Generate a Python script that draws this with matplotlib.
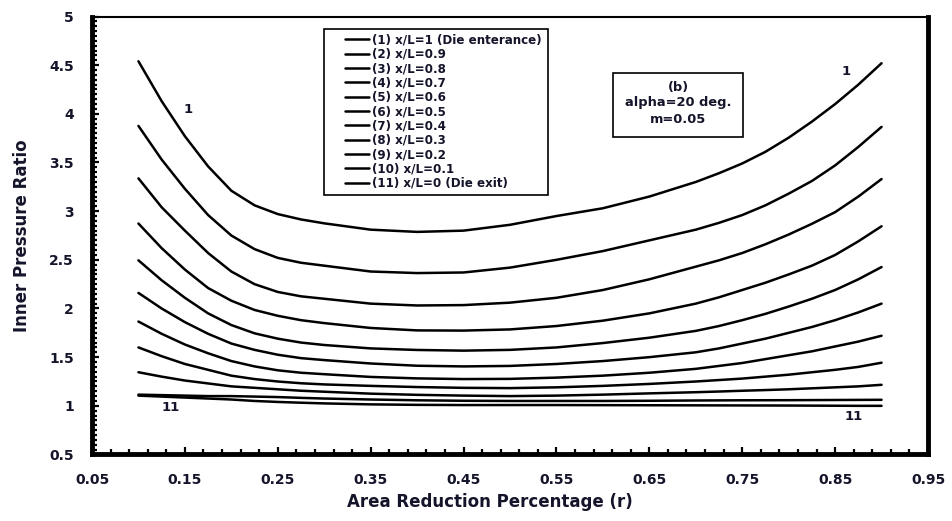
import matplotlib
matplotlib.use("Agg")
import matplotlib.pyplot as plt
from matplotlib.patches import Rectangle
from matplotlib.ticker import FixedLocator, FuncFormatter
from matplotlib.font_manager import FontProperties
import numpy as np

plt.rcParams['font.family'] = ['DejaVu Sans']
plt.rcParams['font.weight'] = 'bold'

# Area reduction values (r)
r = [0.10, 0.125, 0.15, 0.175, 0.20, 0.225, 0.25, 0.275, 0.30, 0.35, 0.40, 0.45,
     0.50, 0.55, 0.60, 0.65, 0.70, 0.725, 0.75, 0.775, 0.80, 0.825, 0.85, 0.875, 0.90]

# Inner pressure ratio for each axial position x/L
p_x10 = [4.54, 4.13, 3.77, 3.46, 3.21, 3.06, 2.97, 2.915, 2.875, 2.81, 2.787, 2.80,
         2.86, 2.95, 3.03, 3.15, 3.30, 3.39, 3.49, 3.61, 3.755, 3.92, 4.10, 4.30, 4.52]
p_x09 = [3.876, 3.53, 3.23, 2.96, 2.75, 2.61, 2.52, 2.47, 2.44, 2.38, 2.364, 2.37,
         2.42, 2.50, 2.59, 2.70, 2.81, 2.88, 2.96, 3.06, 3.18, 3.31, 3.47, 3.66, 3.866]
p_x08 = [3.337, 3.04, 2.80, 2.57, 2.38, 2.25, 2.17, 2.125, 2.10, 2.05, 2.031, 2.035,
         2.06, 2.11, 2.19, 2.30, 2.43, 2.495, 2.57, 2.66, 2.76, 2.87, 2.99, 3.15, 3.33]
p_x07 = [2.873, 2.62, 2.40, 2.21, 2.08, 1.985, 1.925, 1.88, 1.85, 1.80, 1.775, 1.773,
         1.785, 1.82, 1.875, 1.95, 2.05, 2.115, 2.19, 2.265, 2.35, 2.44, 2.55, 2.69, 2.845]
p_x06 = [2.495, 2.29, 2.11, 1.95, 1.83, 1.745, 1.69, 1.65, 1.625, 1.59, 1.574, 1.567,
         1.575, 1.60, 1.645, 1.70, 1.77, 1.82, 1.88, 1.945, 2.02, 2.10, 2.19, 2.30, 2.426]
p_x05 = [2.16, 2.00, 1.86, 1.74, 1.64, 1.575, 1.525, 1.49, 1.47, 1.435, 1.412, 1.405,
         1.41, 1.43, 1.46, 1.50, 1.55, 1.59, 1.64, 1.69, 1.75, 1.81, 1.88, 1.96, 2.05]
p_x04 = [1.866, 1.74, 1.63, 1.54, 1.46, 1.405, 1.365, 1.34, 1.325, 1.297, 1.282, 1.275,
         1.277, 1.29, 1.31, 1.34, 1.38, 1.41, 1.44, 1.48, 1.52, 1.56, 1.61, 1.66, 1.72]
p_x03 = [1.60, 1.51, 1.43, 1.37, 1.31, 1.275, 1.25, 1.232, 1.22, 1.205, 1.193, 1.185,
         1.182, 1.19, 1.205, 1.225, 1.25, 1.265, 1.28, 1.30, 1.32, 1.345, 1.37, 1.40, 1.443]
p_x02 = [1.345, 1.30, 1.26, 1.23, 1.20, 1.185, 1.17, 1.155, 1.145, 1.125, 1.113, 1.105,
         1.10, 1.105, 1.115, 1.128, 1.14, 1.147, 1.155, 1.162, 1.17, 1.18, 1.19, 1.20, 1.216]
p_x01 = [1.115, 1.11, 1.105, 1.10, 1.10, 1.095, 1.09, 1.082, 1.075, 1.065, 1.057, 1.052,
         1.05, 1.05, 1.05, 1.052, 1.055, 1.056, 1.057, 1.0575, 1.058, 1.059, 1.06, 1.061, 1.062]
p_x00 = [1.105, 1.095, 1.085, 1.075, 1.065, 1.05, 1.04, 1.032, 1.025, 1.015, 1.01, 1.008,
         1.008, 1.008, 1.007, 1.006, 1.005, 1.0045, 1.004, 1.0035, 1.003, 1.002, 1.001, 1.0, 1.0]

series = [p_x10, p_x09, p_x08, p_x07, p_x06, p_x05, p_x04, p_x03, p_x02, p_x01, p_x00]
labels = ["(1) x/L=1 (Die enterance)", "(2) x/L=0.9", "(3) x/L=0.8",
          "(4) x/L=0.7", "(5) x/L=0.6", "(6) x/L=0.5", "(7) x/L=0.4",
          "(8) x/L=0.3", "(9) x/L=0.2", "(10) x/L=0.1", "(11) x/L=0 (Die exit)"]

x_ticks = [0.05, 0.15, 0.25, 0.35, 0.45, 0.55, 0.65, 0.75, 0.85, 0.95]
y_ticks = [0.5, 1, 1.5, 2, 2.5, 3, 3.5, 4, 4.5, 5]

text_color = '#14142a'

fig = plt.figure(figsize=(9.53, 5.21), dpi=100)
ax = fig.add_axes([0.09654, 0.12764, 0.87723, 0.84069])

for vals, lab in zip(series, labels):
    ax.plot(r, vals, color='black', lw=1.8, label=lab, solid_joinstyle='round',
            solid_capstyle='round')

ax.set_xlim(0.05, 0.95)
ax.set_ylim(0.5, 5)

ax.xaxis.set_major_locator(FixedLocator(x_ticks))
ax.yaxis.set_major_locator(FixedLocator(y_ticks))
ax.xaxis.set_minor_locator(FixedLocator(np.round(np.arange(0.07, 0.95, 0.02), 3)))
ax.yaxis.set_minor_locator(FixedLocator(np.round(np.arange(0.55, 5.0, 0.05), 3)))
ax.xaxis.set_major_formatter(FuncFormatter(lambda v, p: f"{v:.2f}"))
ax.yaxis.set_major_formatter(FuncFormatter(lambda v, p: f"{v:g}"))

ax.tick_params(which='both', direction='in', top=False, right=False, color='black')
ax.tick_params(which='major', length=5, width=1.6, pad=13, labelsize=10,
               labelcolor=text_color)
ax.tick_params(which='minor', length=3.5, width=1.6)
for t in ax.get_xticklabels() + ax.get_yticklabels():
    t.set_fontweight('bold')

for side in ['left', 'bottom', 'right']:
    ax.spines[side].set_linewidth(3.5)
ax.spines['top'].set_linewidth(1.5)

ax.set_xlabel("Area Reduction Percentage (r)", fontsize=12, fontweight='bold',
              color=text_color)
ax.set_ylabel("Inner Pressure Ratio", fontsize=12, fontweight='bold',
              color=text_color)
ax.xaxis.set_label_coords(0.476, -0.088)
ax.yaxis.set_label_coords(-0.073, 0.5)

# Legend with its own frame
leg = ax.legend(loc='upper left', bbox_to_anchor=(0.3026, 0.961), frameon=False,
                prop=FontProperties(family='DejaVu Sans', weight='bold', size=8.6),
                handlelength=2.0, handletextpad=0.25, labelspacing=0.11,
                borderpad=0, borderaxespad=0)
for t in leg.get_texts():
    t.set_color(text_color)
ax.add_patch(Rectangle((0.2775, 0.5922), 0.268, 0.3803, transform=ax.transAxes,
                       fill=False, ec='black', lw=1.2, zorder=5))

# Parameter box
ax.add_patch(Rectangle((0.6232, 0.7251), 0.1555, 0.1466, transform=ax.transAxes,
                       fill=False, ec='black', lw=1.2, zorder=5))
for txt, yy in [("(b)", 0.8373), ("alpha=20 deg.", 0.803), ("m=0.05", 0.765)]:
    ax.text(0.701, yy, txt, transform=ax.transAxes, ha='center', va='center',
            fontsize=9.4, fontweight='bold', color=text_color)

# Curve numbers
for txt, xx, yy in [("1", 0.153, 4.04), ("1", 0.862, 4.43),
                    ("11", 0.135, 0.98), ("11", 0.870, 0.89)]:
    ax.text(xx, yy, txt, ha='center', va='center', fontsize=9.5,
            fontweight='bold', color=text_color)

fig.savefig("out.png", dpi=100, facecolor='white')
